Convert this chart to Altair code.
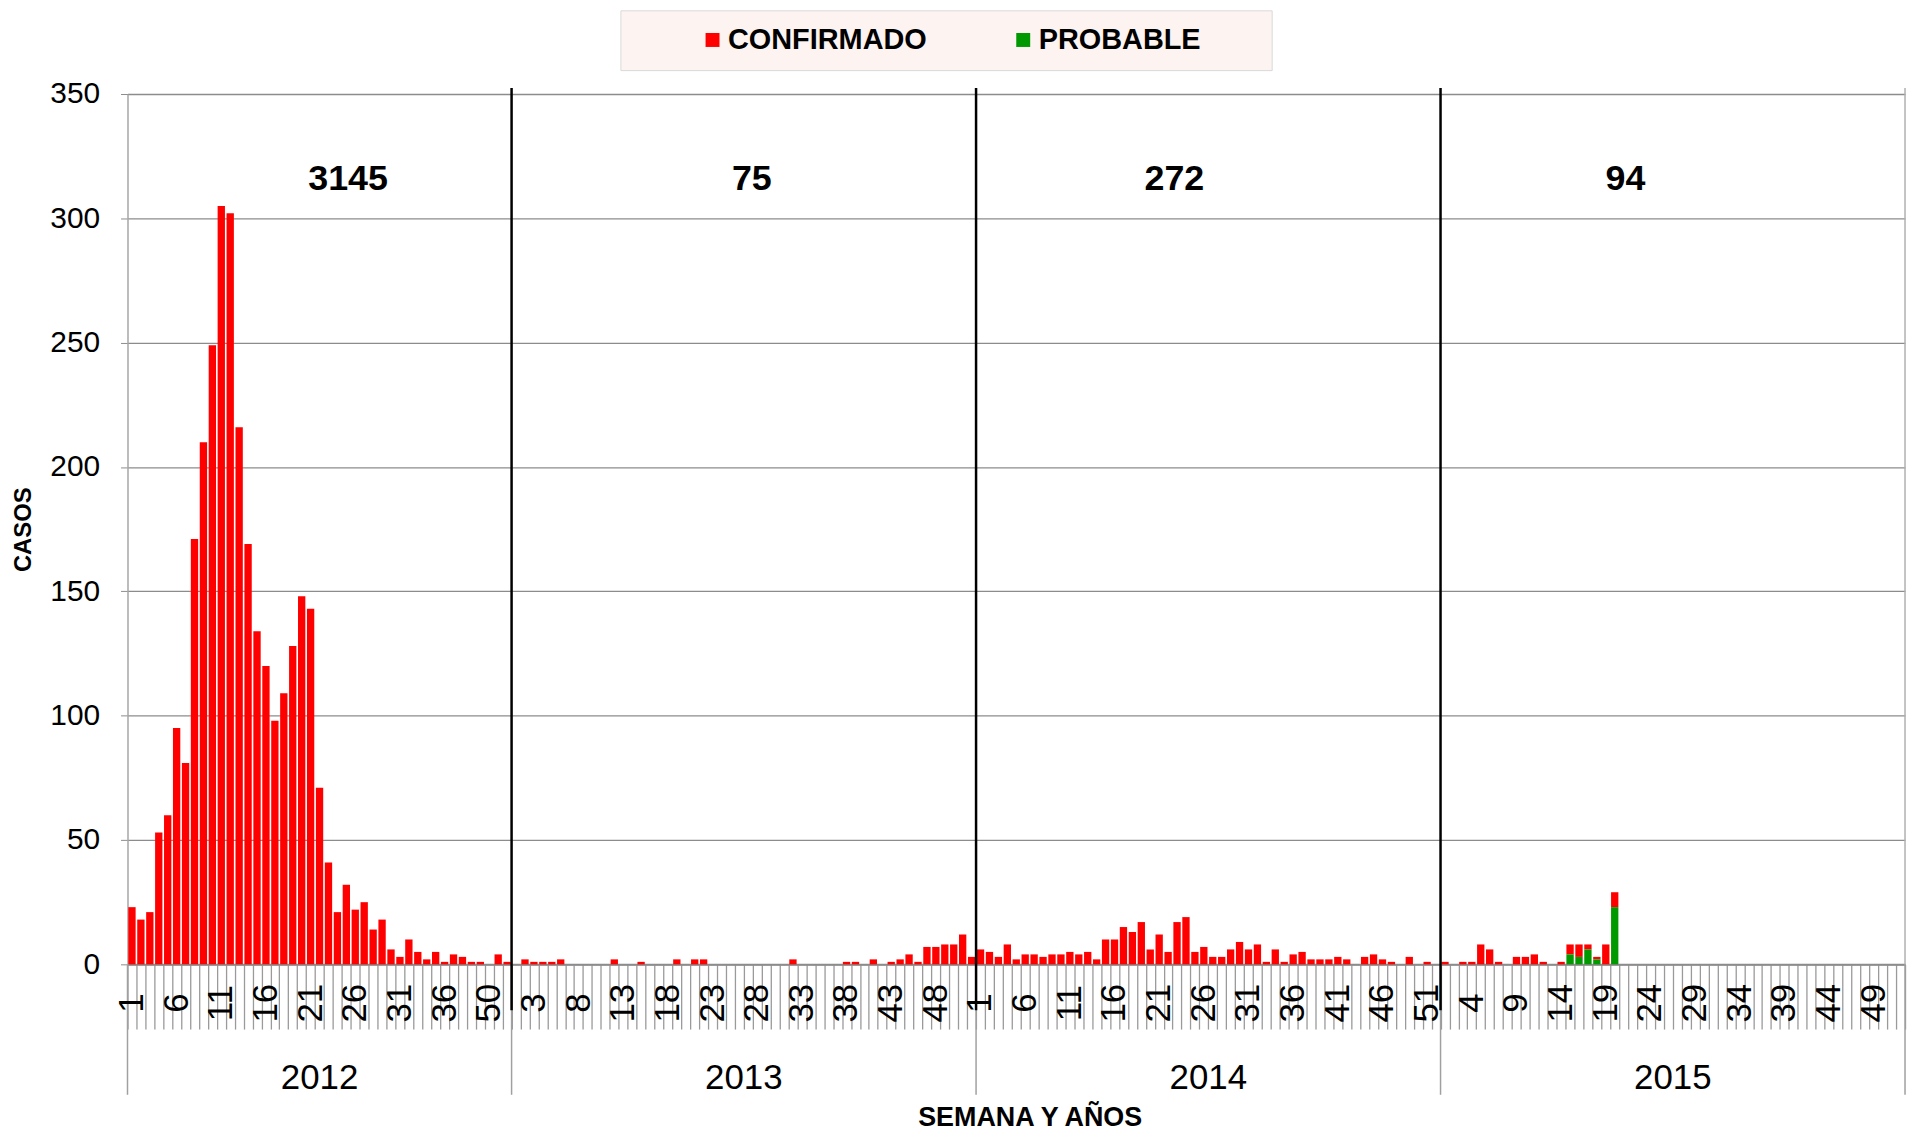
import altair as alt
import pandas as pd

FONT = "Liberation Sans"

# ---------------- data ----------------
years = [2012, 2013, 2014, 2015]
weeks_2012 = list(range(1, 41)) + [50, 51, 52]
weeks_2013 = list(range(1, 53))
weeks_2014 = list(range(1, 53))
weeks_2015 = list(range(1, 53))

conf_2012 = [23, 18, 21, 53, 60, 95, 81, 171, 210, 249,
             305, 302, 216, 169, 134, 120, 98, 109, 128, 148,
             143, 71, 41, 21, 32, 22, 25, 14, 18, 6,
             3, 10, 5, 2, 5, 1, 4, 3, 1, 1,
             0, 4, 1]
conf_2013 = [0, 2, 1, 1, 1, 2, 0, 0, 0, 0,
             0, 2, 0, 0, 1, 0, 0, 0, 2, 0,
             2, 2, 0, 0, 0, 0, 0, 0, 0, 0,
             0, 2, 0, 0, 0, 0, 0, 1, 1, 0,
             2, 0, 1, 2, 4, 1, 7, 7, 8, 8,
             12, 3]
conf_2014 = [6, 5, 3, 8, 2, 4, 4, 3, 4, 4,
             5, 4, 5, 2, 10, 10, 15, 13, 17, 6,
             12, 5, 17, 19, 5, 7, 3, 3, 6, 9,
             6, 8, 1, 6, 1, 4, 5, 2, 2, 2,
             3, 2, 0, 3, 4, 2, 1, 0, 3, 0,
             1, 0]
conf_2015 = [1, 0, 1, 1, 8, 6, 1, 0, 3, 3,
             4, 1, 0, 1, 4, 5, 2, 1, 8, 6,
             0, 0, 0, 0, 0, 0, 0, 0, 0, 0,
             0, 0, 0, 0, 0, 0, 0, 0, 0, 0,
             0, 0, 0, 0, 0, 0, 0, 0, 0, 0,
             0, 0]
prob_2015 = [0, 0, 0, 0, 0, 0, 0, 0, 0, 0,
             0, 0, 0, 0, 4, 3, 6, 2, 0, 23,
             0, 0, 0, 0, 0, 0, 0, 0, 0, 0,
             0, 0, 0, 0, 0, 0, 0, 0, 0, 0,
             0, 0, 0, 0, 0, 0, 0, 0, 0, 0,
             0, 0]
year_totals = ["3145", "75", "272", "94"]
# category index above which each yearly total is written
total_anchor_idx = [24.7, 69.9, 117.2, 167.7]

series = ["CONFIRMADO", "PROBABLE"]
colors = ["#ff0000", "#009900"]

# ---------------- tables ----------------
weeks_all = [weeks_2012, weeks_2013, weeks_2014, weeks_2015]
conf_all = [conf_2012, conf_2013, conf_2014, conf_2015]
prob_all = [[0] * len(weeks_2012), [0] * len(weeks_2013), [0] * len(weeks_2014), prob_2015]

bar_rows, lab_rows, year_rows = [], [], []
idx = 0
for y, wk, cf, pb in zip(years, weeks_all, conf_all, prob_all):
    start = idx
    for w, c, p in zip(wk, cf, pb):
        if c > 0:
            bar_rows.append({"idx": idx, "anio": y, "semana": w, "tipo": "CONFIRMADO", "casos": c, "orden": 1})
        if p > 0:
            bar_rows.append({"idx": idx, "anio": y, "semana": w, "tipo": "PROBABLE", "casos": p, "orden": 0})
        if idx % 5 == 0:
            lab_rows.append({"idx": idx, "lab": str(w)})
        idx += 1
    year_rows.append({"anio": str(y), "start": start, "end": idx})
N = idx

bars_df = pd.DataFrame(bar_rows)
lab_df = pd.DataFrame(lab_rows)
year_df = pd.DataFrame(year_rows)
div_df = pd.DataFrame({"b": [r["start"] for r in year_rows[1:]]})
sep_df = pd.DataFrame({"b": [0] + [r["end"] for r in year_rows]})
edge_df = pd.DataFrame({"b": [N]})
tot_df = pd.DataFrame({"t": year_totals, "pos": total_anchor_idx})

W, H = 1785, 874
xscale = alt.Scale(domain=[0, N], nice=False, zero=False)
yscale = alt.Scale(domain=[0, 350], nice=False)

x_axis = alt.Axis(values=list(range(N + 1)), tickSize=65, labels=False, grid=False,
                  domainColor="#8c8c8c", domainWidth=2, tickColor="#9a9a9a", tickWidth=1.3,
                  title="SEMANA Y AÑOS", titleFontSize=27, titleFontWeight="bold",
                  titleColor="black", titleY=154, titleX=906, titleBaseline="middle")
y_axis = alt.Axis(values=list(range(0, 351, 50)), grid=True, gridColor="#8c8c8c", gridWidth=1.3,
                  tickSize=7, tickColor="#8c8c8c", domainColor="#a6a6a6", domainWidth=1.5,
                  labelFontSize=30, labelPadding=21, labelColor="black",
                  title="CASOS", titleFontSize=24, titleFontWeight="bold", titleColor="black",
                  titleX=-104, titleY=437, titleAngle=270, titleBaseline="middle")

bars = alt.Chart(bars_df).transform_stack(
    stack="casos", groupby=["idx"], as_=["y0", "y1"], sort=[alt.SortField("orden", order="ascending")]
).transform_calculate(
    x0="datum.idx + 0.09", x1="datum.idx + 0.91"
).mark_bar().encode(
    x=alt.X("x0:Q", scale=xscale, axis=x_axis),
    x2="x1:Q",
    y=alt.Y("y1:Q", scale=yscale, axis=y_axis),
    y2="y0:Q",
    color=alt.Color("tipo:N", scale=alt.Scale(domain=series, range=colors),
                    legend=alt.Legend(title=" ", titleOrient="right", titlePadding=56, titleFontSize=10,
                                      orient="none", legendX=495, legendY=-84,
                                      direction="horizontal", symbolType="square", symbolSize=196,
                                      symbolStrokeWidth=0, labelFontSize=29, labelFontWeight="bold",
                                      labelColor="black", labelLimit=400, padding=15,
                                      fillColor="#FDF4F1", strokeColor="#D9D9D9",
                                      symbolOffset=63, labelOffset=1, columnPadding=19,
                                      gridAlign="all")),
)

week_labels = alt.Chart(lab_df).transform_calculate(xc="datum.idx + 0.5").mark_text(
    angle=270, align="center", baseline="middle", fontSize=35, color="black"
).encode(
    x=alt.X("xc:Q", scale=xscale, axis=x_axis),
    y=alt.value(H + 39),
    text="lab:N",
)

year_labels = alt.Chart(year_df).transform_calculate(xc="(datum.start + datum.end) / 2").mark_text(
    align="center", baseline="middle", fontSize=35, color="black"
).encode(
    x=alt.X("xc:Q", scale=xscale, axis=x_axis),
    y=alt.value(H + 114),
    text="anio:N",
)

separators = alt.Chart(sep_df).mark_rule(color="#a0a0a0", strokeWidth=1.5).encode(
    x=alt.X("b:Q", scale=xscale, axis=x_axis),
    y=alt.value(H),
    y2=alt.value(H + 131),
)

right_edge = alt.Chart(edge_df).mark_rule(color="#b0b0b0", strokeWidth=1.5).encode(
    x=alt.X("b:Q", scale=xscale, axis=x_axis),
    y=alt.value(-6),
    y2=alt.value(H),
)

dividers = alt.Chart(div_df).mark_rule(color="black", strokeWidth=2.5).encode(
    x=alt.X("b:Q", scale=xscale, axis=x_axis),
    y=alt.value(-6),
    y2=alt.value(H + 46),
)

totals = alt.Chart(tot_df).mark_text(
    align="center", baseline="middle", fontSize=36, fontWeight="bold", color="black"
).encode(
    x=alt.X("pos:Q", scale=xscale, axis=x_axis),
    y=alt.value(85),
    text="t:N",
)

chart = alt.layer(bars, separators, right_edge, dividers, week_labels, year_labels, totals).properties(
    width=W, height=H,
    padding={"left": 120, "top": 84, "right": 4, "bottom": 166},
    autosize=alt.AutoSizeParams(type="none"),
).configure(font=FONT).configure_view(stroke=None)

chart.save("out.html", embed_options={"renderer": "svg", "actions": False})
